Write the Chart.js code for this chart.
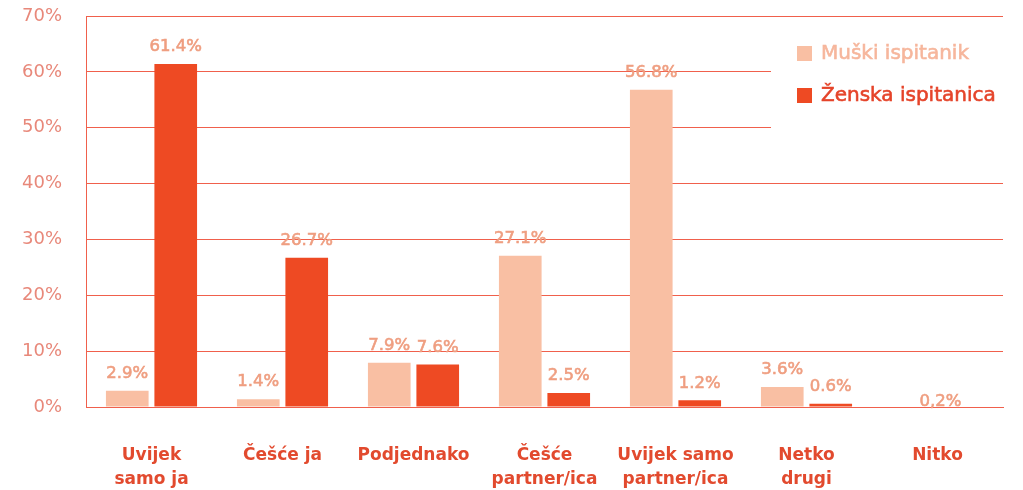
<!DOCTYPE html>
<html>
<head>
<meta charset="utf-8">
<script src="https://cdn.jsdelivr.net/npm/chart.js@4"></script>
<style>
  html, body { margin: 0; padding: 0; background: #fff; }
  #wrap { width: 1023px; height: 490px; position: relative; }
</style>
</head>
<body>
<div id="wrap"><canvas id="chart"></canvas></div>
<script>
const categories = [
  ['Uvijek', 'samo ja'],
  'Češće ja',
  'Podjednako',
  ['Češće', 'partner/ica'],
  ['Uvijek samo', 'partner/ica'],
  ['Netko', 'drugi'],
  'Nitko'
];
const muski = [2.9, 1.4, 7.9, 27.1, 56.8, 3.6, null];
const zenska = [61.4, 26.7, 7.6, 2.5, 1.2, 0.6, null];
// "Nitko" has one shared value, shown only as a label over the group
const nitkoValue = 0.2;
const nitkoLabel = '0,2%';
const yTicks = [0, 10, 20, 30, 40, 50, 60, 70];

const LIGHT = '#F9BFA3';
const DARK = '#EE4A23';
const GRID = '#F0604C';
const LABEL = '#EF9E80';
const FONT = '"DejaVu Sans", sans-serif';

function heavyText(ctx, text, x, y) {
  ctx.fillText(text, x, y);
  ctx.strokeText(text, x, y);
}

const valueLabels = {
  id: 'valueLabels',
  afterDatasetsDraw(chart) {
    const ctx = chart.ctx;
    ctx.save();
    ctx.font = '16.5px ' + FONT;
    ctx.fillStyle = LABEL;
    ctx.strokeStyle = LABEL;
    ctx.lineWidth = 0.6;
    ctx.textAlign = 'center';
    ctx.textBaseline = 'middle';
    chart.data.datasets.forEach((ds, i) => {
      chart.getDatasetMeta(i).data.forEach((bar, j) => {
        const v = ds.data[j];
        if (v == null) return;
        heavyText(ctx, v.toFixed(1) + '%', bar.x, bar.y - 17);
      });
    });
    const x = chart.scales.x.getPixelForValue(6);
    const y = chart.scales.y.getPixelForValue(nitkoValue);
    heavyText(ctx, nitkoLabel, x + 3, y - 4);
    ctx.restore();
  }
};

const boxLegend = {
  id: 'boxLegend',
  afterDraw(chart) {
    const ctx = chart.ctx;
    ctx.save();
    ctx.fillStyle = '#fff';
    ctx.fillRect(771, 30, 240, 104);
    ctx.font = '20px ' + FONT;
    ctx.textBaseline = 'middle';
    ctx.lineWidth = 0.6;
    const items = [
      { text: 'Muški ispitanik', color: LIGHT, textColor: '#F6B69C', y: 54 },
      { text: 'Ženska ispitanica', color: DARK, textColor: '#E5442A', y: 96 }
    ];
    items.forEach(it => {
      ctx.fillStyle = it.color;
      ctx.fillRect(797, it.y - 8, 15, 15);
      ctx.fillStyle = it.textColor;
      ctx.strokeStyle = it.textColor;
      heavyText(ctx, it.text, 821, it.y);
    });
    ctx.restore();
  }
};

new Chart(document.getElementById('chart'), {
  type: 'bar',
  data: {
    labels: categories,
    datasets: [
      { label: 'Muški ispitanik', data: muski, backgroundColor: LIGHT },
      { label: 'Ženska ispitanica', data: zenska, backgroundColor: DARK }
    ]
  },
  options: {
    responsive: true,
    maintainAspectRatio: false,
    animation: false,
    categoryPercentage: 0.74,
    barPercentage: 0.88,
    layout: { padding: { top: 16, right: 20, left: 0, bottom: 0 } },
    plugins: {
      legend: { display: false },
      tooltip: { enabled: false }
    },
    scales: {
      x: {
        grid: { display: false, drawTicks: false },
        border: { display: true, color: GRID, width: 1 },
        ticks: {
          color: '#E24A2E',
          padding: 37,
          maxRotation: 0,
          autoSkip: false,
          font: { family: FONT, size: 17, weight: 'bold', lineHeight: 1.38 }
        },
        afterFit(scale) { scale.height = 83; scale.paddingLeft = 0; scale.paddingRight = 0; }
      },
      y: {
        min: 0,
        max: 70,
        afterBuildTicks(scale) { scale.ticks = yTicks.map(v => ({ value: v })); },
        grid: { color: GRID, lineWidth: 1, drawTicks: false },
        border: { display: true, color: GRID, width: 1 },
        ticks: {
          color: '#E8887A',
          padding: 24,
          font: { family: FONT, size: 18 },
          callback: v => v + '%'
        },
        afterFit(scale) { scale.width = 86; scale.paddingTop = 0; scale.paddingBottom = 0; }
      }
    }
  },
  plugins: [valueLabels, boxLegend]
});
</script>
</body>
</html>
